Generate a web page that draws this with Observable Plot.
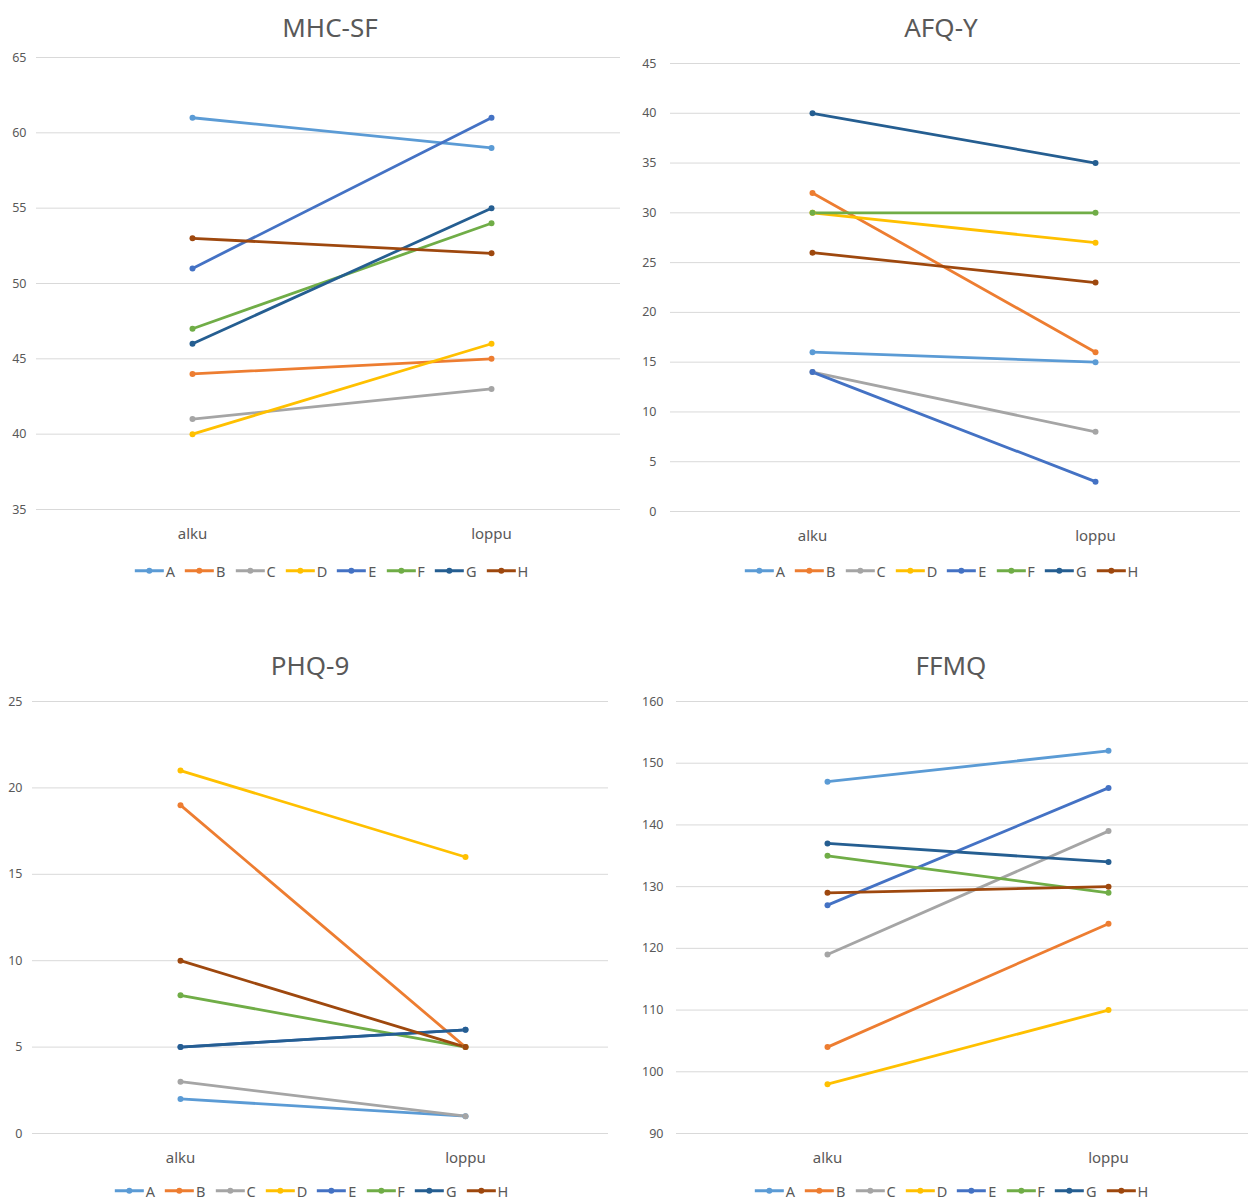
<!DOCTYPE html>
<html><head><meta charset="utf-8">
<script src="https://cdn.jsdelivr.net/npm/d3@7"></script>
<script src="https://cdn.jsdelivr.net/npm/@observablehq/plot@0.6"></script>
<style>
body{margin:0;background:#fff;font-family:"Noto Sans",sans-serif}
#root{position:relative;width:1248px;height:1201px;overflow:hidden;background:#fff}
.panel{position:absolute}
.title{position:absolute;font-size:26px;color:#595959;transform:translate(-50%,-50%);white-space:nowrap;line-height:1}
.legend{position:absolute;transform:translate(-50%,-50%);display:flex;gap:9px;font-size:14.5px;color:#595959;white-space:nowrap;align-items:center;line-height:1}
.legend .item{display:flex;align-items:center;gap:1px}
</style>
</head><body><div id="root"></div>
<script>
const categories = ["alku", "loppu"];
const series = ["A", "B", "C", "D", "E", "F", "G", "H"];
const colors = ["#5B9BD5", "#ED7D31", "#A5A5A5", "#FFC000", "#4472C4", "#70AD47", "#255E91", "#9E480E"];

const titles = ["MHC-SF", "AFQ-Y", "PHQ-9", "FFMQ"];

const mhcAlku  = [61, 44, 41, 40, 51, 47, 46, 53];
const mhcLoppu = [59, 45, 43, 46, 61, 54, 55, 52];
const mhcTicks = [35, 40, 45, 50, 55, 60, 65];

const afqAlku  = [16, 32, 14, 30, 14, 30, 40, 26];
const afqLoppu = [15, 16, 8, 27, 3, 30, 35, 23];
const afqTicks = [0, 5, 10, 15, 20, 25, 30, 35, 40, 45];

const phqAlku  = [2, 19, 3, 21, 5, 8, 5, 10];
const phqLoppu = [1, 5, 1, 16, 6, 5, 6, 5];
const phqTicks = [0, 5, 10, 15, 20, 25];

const ffmqAlku  = [147, 104, 119, 98, 127, 135, 137, 129];
const ffmqLoppu = [152, 124, 139, 110, 146, 129, 134, 130];
const ffmqTicks = [90, 100, 110, 120, 130, 140, 150, 160];

const root = document.getElementById("root");
const FONT = '"Noto Sans", sans-serif';

function makePanel(cfg) {
  const {title, alku, loppu, ticks, left, top, width, height, mL, mR, mT, mB, xa, xb, titleX, titleY, legendX, legendY, tickPad} = cfg;
  const data = series.flatMap((s, i) => [
    {s, t: categories[0], v: alku[i]},
    {s, t: categories[1], v: loppu[i]}
  ]);
  const svg = Plot.plot({
    width, height,
    marginLeft: mL, marginRight: mR, marginTop: mT, marginBottom: mB,
    style: {fontFamily: FONT, color: "#595959", background: "transparent"},
    x: {type: "point", domain: categories, range: [xa, xb], padding: 0},
    y: {domain: [ticks[0], ticks[ticks.length - 1]], nice: false},
    color: {domain: series, range: colors},
    marks: [
      Plot.ruleY(ticks, {stroke: "#d9d9d9", strokeWidth: 1}),
      Plot.axisY({ticks, tickSize: 0, tickPadding: tickPad, fontSize: 12.5, label: null, fill: "#595959"}),
      Plot.axisX({tickSize: 0, tickPadding: 19, fontSize: 15, label: null, fill: "#595959"}),
      Plot.line(data, {x: "t", y: "v", z: "s", stroke: "s", strokeWidth: 2.8}),
      Plot.dot(data, {x: "t", y: "v", fill: "s", r: 3})
    ]
  });
  const wrap = document.createElement("div");
  wrap.className = "panel";
  wrap.style.left = left + "px";
  wrap.style.top = top + "px";
  wrap.appendChild(svg);
  root.appendChild(wrap);

  const t = document.createElement("div");
  t.className = "title";
  t.textContent = title;
  t.style.left = titleX + "px";
  t.style.top = titleY + "px";
  root.appendChild(t);

  const lg = document.createElement("div");
  lg.className = "legend";
  lg.style.left = legendX + "px";
  lg.style.top = legendY + "px";
  series.forEach((s, i) => {
    const it = document.createElement("span");
    it.className = "item";
    it.innerHTML = `<svg width="31" height="10"><line x1="1" y1="5" x2="30" y2="5" stroke="${colors[i]}" stroke-width="2.8"/><circle cx="15.5" cy="5" r="3" fill="${colors[i]}"/></svg><span>${s}</span>`;
    lg.appendChild(it);
  });
  root.appendChild(lg);
}

makePanel({title: titles[0], alku: mhcAlku, loppu: mhcLoppu, ticks: mhcTicks,
  left: 0, top: 40, width: 624, height: 520, mL: 36, mR: 4, mT: 17, mB: 51, xa: 192, xb: 491,
  titleX: 330, titleY: 27, legendX: 331, legendY: 571, tickPad: 10});
makePanel({title: titles[1], alku: afqAlku, loppu: afqLoppu, ticks: afqTicks,
  left: 624, top: 40, width: 624, height: 520, mL: 46, mR: 8, mT: 23, mB: 49, xa: 188, xb: 471,
  titleX: 941, titleY: 27, legendX: 941, legendY: 571, tickPad: 14});
makePanel({title: titles[2], alku: phqAlku, loppu: phqLoppu, ticks: phqTicks,
  left: 0, top: 680, width: 624, height: 500, mL: 32, mR: 16, mT: 21, mB: 47, xa: 180, xb: 465,
  titleX: 310, titleY: 665, legendX: 311, legendY: 1191, tickPad: 10});
makePanel({title: titles[3], alku: ffmqAlku, loppu: ffmqLoppu, ticks: ffmqTicks,
  left: 624, top: 680, width: 624, height: 500, mL: 52, mR: 0, mT: 21, mB: 47, xa: 203, xb: 484,
  titleX: 951, titleY: 665, legendX: 951, legendY: 1191, tickPad: 13});
</script>
</body></html>
